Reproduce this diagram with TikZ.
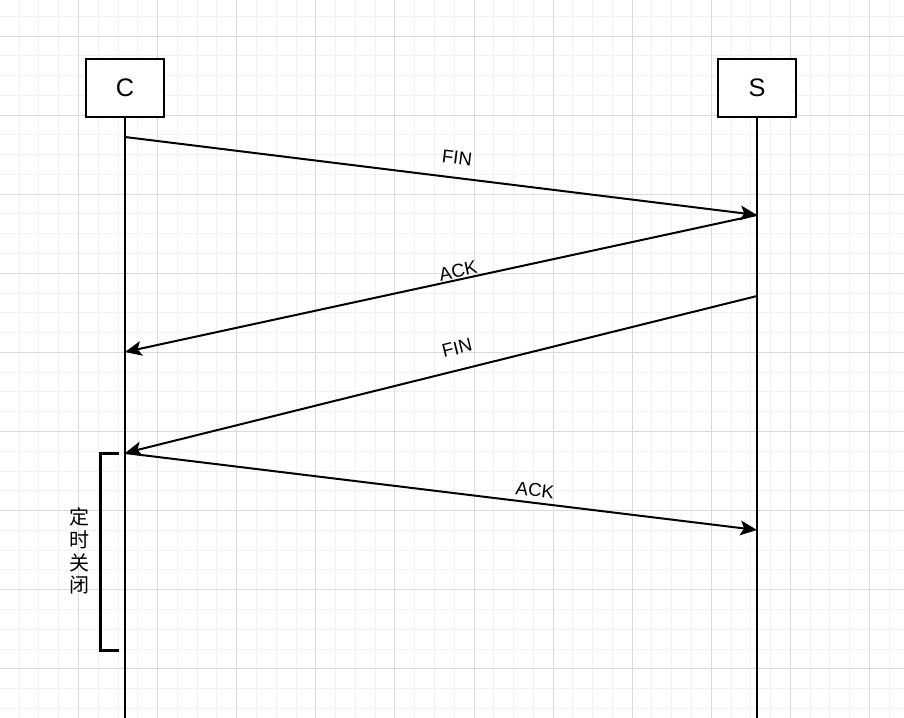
\documentclass[tikz,border=0pt]{standalone}
\usepackage{fontspec}
\setmainfont{Liberation Sans}
\newfontfamily\cjk{Noto Sans CJK SC}
\usetikzlibrary{arrows.meta}
\definecolor{gridminor}{HTML}{F1F1F1}
\definecolor{gridmajor}{HTML}{DADADA}

\begin{document}
\begin{tikzpicture}[x=0.75pt,y=-0.75pt]


 \tikzset{
    party/.style={
      draw=black,
      fill=white,
      line width=1.5pt,
      minimum width=58.5pt,
      minimum height=43.5pt,
      inner sep=0pt,
      font=\fontsize{19}{22}\selectfont
    },
    life/.style={line width=1.5pt},
    msg/.style={line width=1.5pt, -{Stealth[length=12.5pt,width=11pt,inset=2.8pt]}},
    lbl/.style={font=\fontsize{14}{16}\selectfont, inner sep=0pt}
  }

\useasboundingbox (0,0) rectangle (904,718);

\begin{scope}
\clip (0,0) rectangle (904,718);
\foreach \i in {0,...,46}
    \draw[gridminor, line width=0.75pt] ({-0.6+19.775*\i},0) -- ++(0,718);
\foreach \j in {0,...,37}
    \draw[gridminor, line width=0.75pt] (0,{-3.55+19.775*\j}) -- ++(904,0);
\foreach \i in {0,...,11}
    \draw[gridmajor, line width=0.75pt] ({-0.6+79.1*\i},0) -- ++(0,718);
\foreach \j in {0,...,9}
    \draw[gridmajor, line width=0.75pt] (0,{36+79.1*(\j-1)}) -- ++(904,0);
\end{scope}

\node[party] (C) at (125,87.5) {C};
\node[party] (S) at (757,87.5) {S};

\coordinate (cend) at (125,718);
\coordinate (send) at (757,718);

\draw[life] (C.south) -- (cend);
\draw[life] (S.south) -- (send);

\coordinate (c1) at (125,137);
\coordinate (c2) at (125,352);
\coordinate (c3) at (125,453);
\coordinate (s1) at (757,215);
\coordinate (s2) at (757,296);
\coordinate (s3) at (757,530);

\draw[msg] (c1) -- (s1);
\draw[msg] (s1) -- (c2);
\draw[msg] (s2) -- (c3);
\draw[msg] (c3) -- (s3);

\node[lbl, rotate=-7] (fin1) at (457,158) {FIN};
\node[lbl, rotate=12.1] (ack1) at (458,271) {ACK};
\node[lbl, rotate=13.9] (fin2) at (457,348) {FIN};
\node[lbl, rotate=-6.9] (ack2) at (535,490) {ACK};

\coordinate (b1) at (119,453);
\coordinate (b2) at (119,650);
\draw[line width=2.25pt] (b1) -- (100,453) -- (100,650) -- (b2);

\node[font=\cjk\fontsize{15}{17}\selectfont, align=center, inner sep=0pt] (timer) at (79.5,551) {定\\时\\关\\闭};

\end{tikzpicture}
\end{document}
